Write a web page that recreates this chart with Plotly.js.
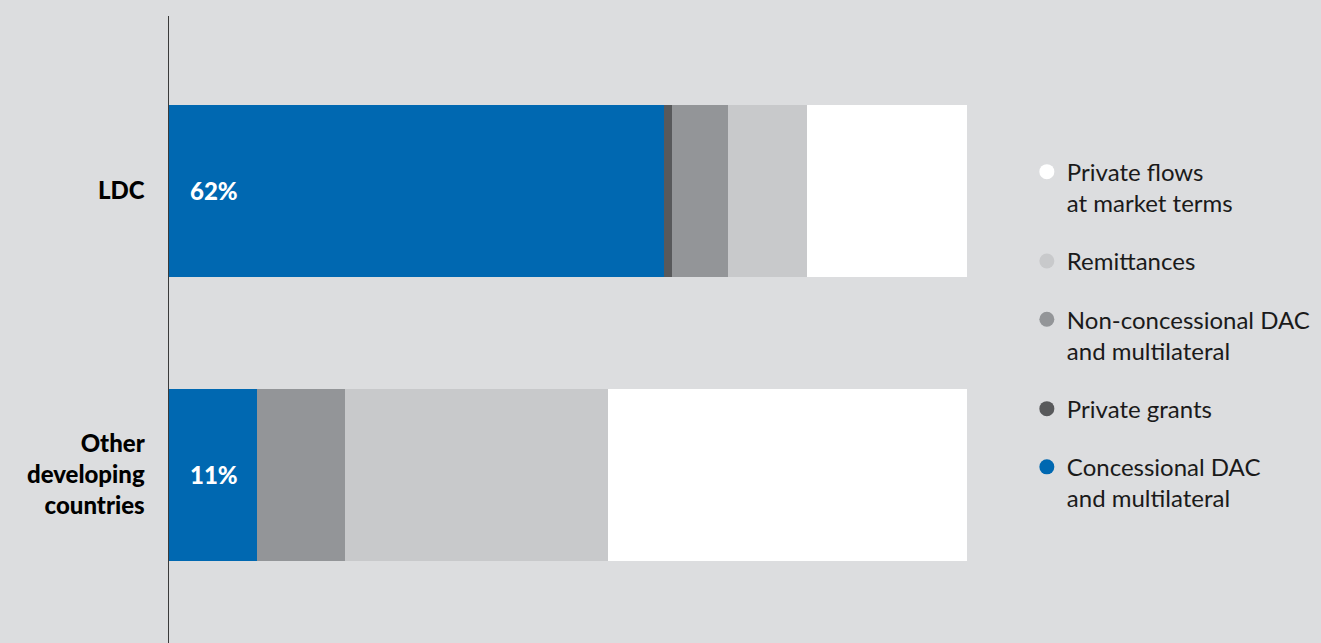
<!DOCTYPE html>
<html>
<head>
<meta charset="utf-8">
<script src="https://cdn.plot.ly/plotly-3.0.1.min.js"></script>
<style>html,body{margin:0;padding:0;background:#dcdddf;}#chart{width:1321px;height:643px;}</style>
</head>
<body>
<div id="chart"></div>
<script>
// Data
const categories = ['LDC', 'Other developing countries'];
const categoryLabels = ['LDC', 'Other<br>developing<br>countries'];
const seriesNames = ['Concessional DAC<br>and multilateral', 'Private grants', 'Non-concessional DAC<br>and multilateral', 'Remittances', 'Private flows<br>at market terms'];
const concessional = [62, 11];
const privateGrants = [1, 0];
const nonConcessional = [7, 11];
const remittances = [10, 33];
const privateFlows = [20, 45];
const seriesValues = [concessional, privateGrants, nonConcessional, remittances, privateFlows];
const seriesColors = ['#0068b1', '#58595b', '#939598', '#c8c9cb', '#ffffff'];

const FONT = 'Lato, "Open Sans", sans-serif';
const traces = [];
seriesValues.forEach((vals, i) => {
  traces.push({
    type: 'bar', orientation: 'h', x: vals, y: categories,
    name: seriesNames[i], marker: {color: seriesColors[i], line: {width: 0}},
    width: 0.606, showlegend: false, hoverinfo: 'x+name'
  });
});
// legend entries (circle markers), top to bottom: reversed stacking order
for (let i = seriesValues.length - 1; i >= 0; i--) {
  traces.push({
    type: 'scatter', mode: 'markers', x: [null], y: [null],
    name: seriesNames[i], legendgroup: 'g' + i,
    marker: {color: seriesColors[i], size: 15, symbol: 'circle'},
    showlegend: true, hoverinfo: 'skip'
  });
}

const annotations = categories.map((c, j) => ({
  x: 0, y: c, xref: 'x', yref: 'y', text: concessional[j] + '%',
  showarrow: false, xanchor: 'left', xshift: 19,
  font: {family: FONT, size: 24, color: '#ffffff', weight: 900}
}));

const layout = {
  width: 1321, height: 643,
  paper_bgcolor: '#dcdddf', plot_bgcolor: '#dcdddf',
  margin: {l: 169, r: 354, t: 16, b: 0, autoexpand: false},
  barmode: 'stack',
  font: {family: FONT, size: 24, color: '#1a1a1a'},
  xaxis: {range: [0, 100], showgrid: false, zeroline: false, showticklabels: false, showline: false, fixedrange: true},
  yaxis: {
    type: 'category', categoryorder: 'array', categoryarray: categories.slice().reverse(),
    range: [-0.592, 1.616], tickvals: categories, ticktext: categoryLabels,
    showgrid: false, zeroline: false, showline: true, linecolor: '#3a3a3a', linewidth: 1.5,
    ticks: '', ticklabelstandoff: 18,
    tickfont: {family: FONT, size: 24, color: '#000000', weight: 900}
  },
  legend: {
    x: 1.075, xanchor: 'left', y: 0.787, yanchor: 'top',
    bgcolor: 'rgba(0,0,0,0)', borderwidth: 0, valign: 'top',
    traceorder: 'grouped', tracegroupgap: 24,
    font: {family: FONT, size: 24, color: '#1a1a1a'}
  },
  annotations: annotations,
  showlegend: true
};

Plotly.newPlot('chart', traces, layout, {displayModeBar: false, staticPlot: true});
</script>
</body>
</html>
